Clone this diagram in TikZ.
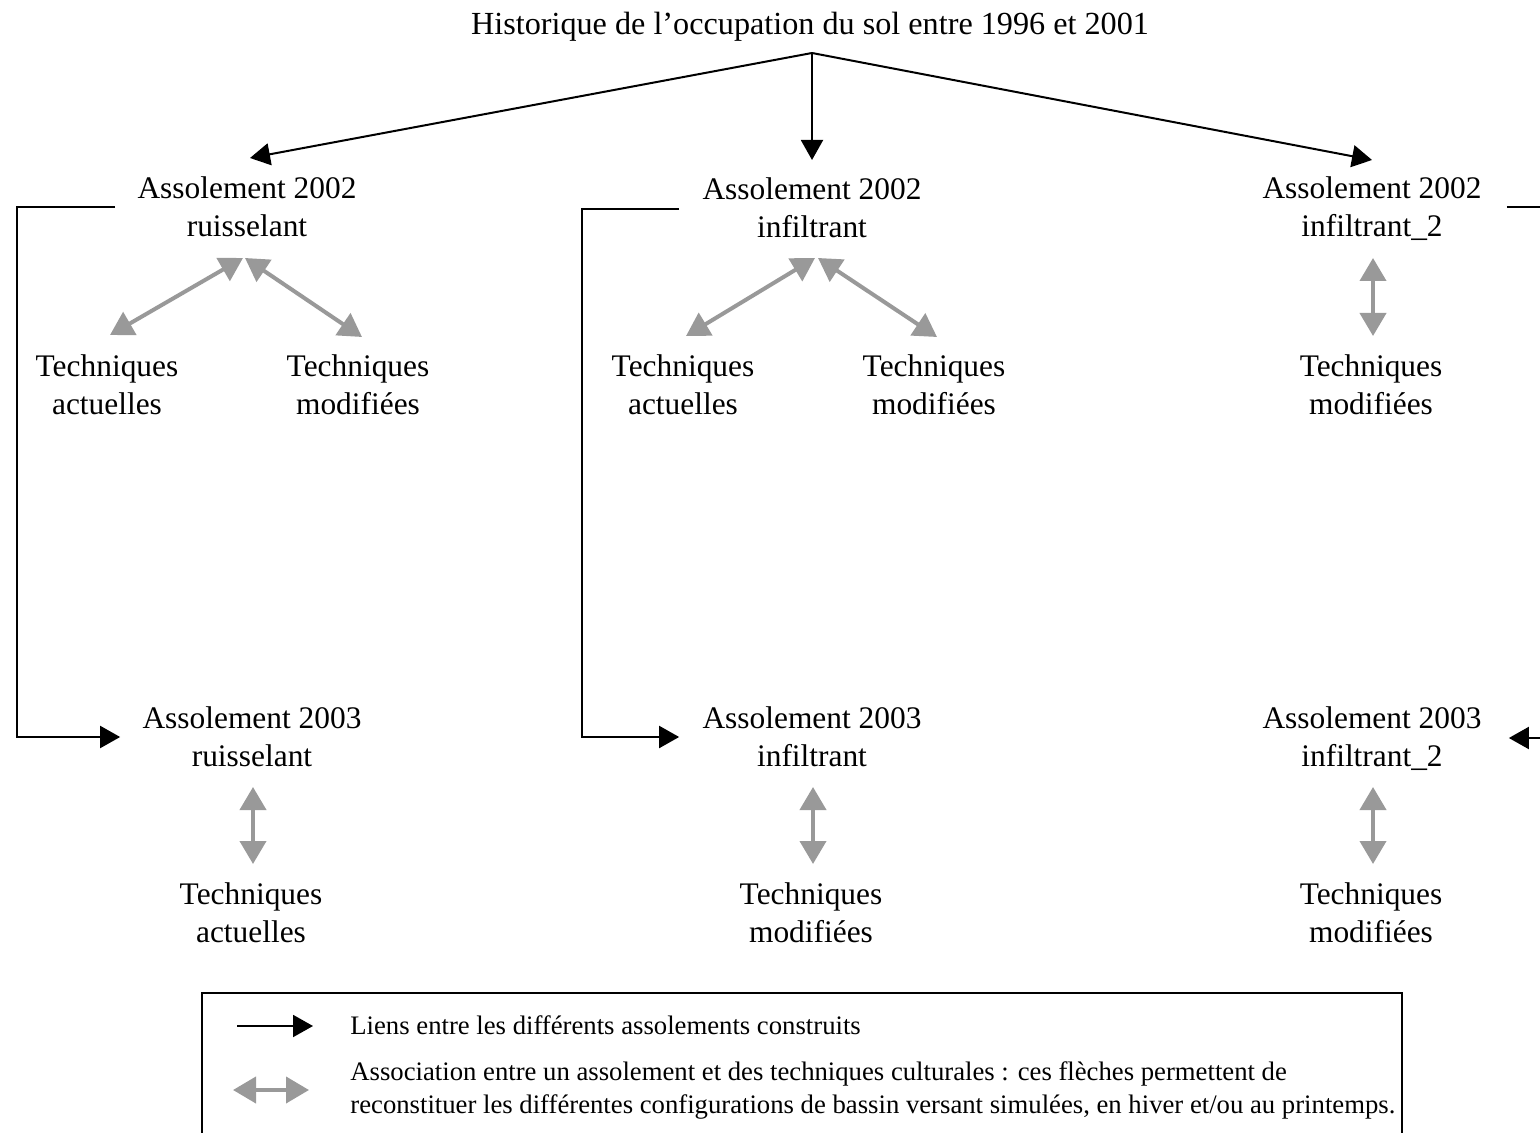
\documentclass[tikz,border=0pt]{standalone}
\usepackage{fontspec}
\setmainfont{Liberation Serif}
\usetikzlibrary{arrows.meta,calc}
\definecolor{arrgray}{HTML}{999999}
\begin{document}
\begin{tikzpicture}[x=0.5pt,y=-0.5pt,
  lbl/.style={align=center,inner sep=0pt,font=\fontsize{15.7}{19}\selectfont},
  leg/.style={align=left,inner sep=0pt,anchor=west,font=\fontsize{13.35}{16.5}\selectfont},
  link/.style={line width=1pt,-{Triangle[length=10pt,width=11pt]}},
  plain/.style={line width=1pt},
  assoc/.style={line width=2pt,arrgray,{Triangle[length=11.5pt,width=13pt]}-{Triangle[length=11.5pt,width=13pt]}}]
\useasboundingbox (0,0) rectangle (1540,1133);

% title
\node[lbl,font=\fontsize{16.1}{19}\selectfont] (hist) at (810,27) {Historique de l’occupation du sol entre 1996 et 2001};
\coordinate (apex) at (812,53);

% 2002 level
\node[lbl] (a2r) at (247,207) {Assolement 2002\\ruisselant};
\node[lbl] (a2i) at (812,208) {Assolement 2002\\infiltrant};
\node[lbl] (a2j) at (1372,209) {Assolement 2002\\infiltrant\_2};

\node[lbl] (t2ra) at (107,385) {Techniques\\actuelles};
\node[lbl] (t2rm) at (358,385) {Techniques\\modifiées};
\node[lbl] (t2ia) at (683,385) {Techniques\\actuelles};
\node[lbl] (t2im) at (934,385) {Techniques\\modifiées};
\node[lbl] (t2jm) at (1371,385) {Techniques\\modifiées};

% 2003 level
\node[lbl] (a3r) at (252,737) {Assolement 2003\\ruisselant};
\node[lbl] (a3i) at (812,737) {Assolement 2003\\infiltrant};
\node[lbl] (a3j) at (1372,739) {Assolement 2003\\infiltrant\_2};

\node[lbl] (t3ra) at (251,913) {Techniques\\actuelles};
\node[lbl] (t3im) at (811,913) {Techniques\\modifiées};
\node[lbl] (t3jm) at (1371,913) {Techniques\\modifiées};

% black links from title
\draw[link] (apex) -- ($(a2r.center)+(3,-49)$);
\draw[link] (apex) -- ($(a2i.center)+(0,-48)$);
\draw[link] (apex) -- ($(a2j.center)+(0,-49)$);

% gray associations 2002
\draw[assoc] ($(a2r.center)+(-4,51)$) -- ($(t2ra.center)+(3,-50)$);
\draw[assoc] ($(a2r.center)+(-2,51)$) -- ($(t2rm.center)+(4,-48)$);
\draw[assoc] ($(a2i.center)+(3,50)$) -- ($(t2ia.center)+(3,-49)$);
\draw[assoc] ($(a2i.center)+(6,50)$) -- ($(t2im.center)+(3,-48)$);
\draw[assoc] ($(a2j.center)+(1,49)$) -- ($(t2jm.center)+(2,-49)$);

% gray associations 2003
\draw[assoc] ($(a3r.center)+(1,50)$) -- ($(t3ra.center)+(2,-49)$);
\draw[assoc] ($(a3i.center)+(1,50)$) -- ($(t3im.center)+(2,-49)$);
\draw[assoc] ($(a3j.center)+(1,48)$) -- ($(t3jm.center)+(2,-49)$);

% elbow links 2002 -> 2003
\draw[link] ($(a2r.west)+(-22,0)$) -- ++(-98,0) |- ($(a3r.west)+(-22,0)$);
\draw[link] ($(a2i.west)+(-23,1)$) -- ++(-97,0) |- ($(a3i.west)+(-23,0)$);
\draw[plain] ($(a2j.east)+(25,-2)$) -- ++(40,0);
\coordinate (rin) at (1545,738);
\draw[link] (rin) -- ($(a3j.east)+(27,-1)$);

% legend
\draw[line width=1pt] (202,993) rectangle (1402,1138);
\coordinate (l1a) at (237,1026);
\coordinate (l1b) at (313,1026);
\draw[link] (l1a) -- (l1b);
\coordinate (l2a) at (233,1090);
\coordinate (l2b) at (309,1090);
\draw[assoc] (l2a) -- (l2b);
\node[leg] (leg1) at (350,1025) {Liens entre les différents assolements construits};
\node[leg] (leg2) at (350,1090) {Association entre un assolement et des techniques culturales : ces flèches permettent de\\reconstituer les différentes configurations de bassin versant simulées, en hiver et/ou au printemps.};
\end{tikzpicture}
\end{document}
